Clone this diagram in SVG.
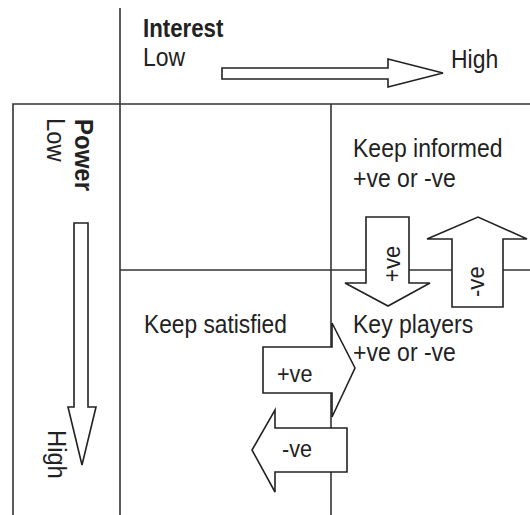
<svg xmlns="http://www.w3.org/2000/svg" width="530" height="515" viewBox="0 0 530 515">
<style>
.ln{stroke:#333;stroke-width:1.6;fill:none}
.ar{stroke:#222;stroke-width:1.6;fill:#fff;stroke-linejoin:miter}
text{font-family:"Liberation Sans",Arial,sans-serif;font-size:25px;fill:#222}
.b{font-weight:bold}
.s{font-size:24px}
</style>
<rect width="530" height="515" fill="#fff"/>
<g id="grid">
<line class="ln" x1="120" y1="8" x2="120" y2="515"/>
<polyline class="ln" points="13,515 13,104 530,104"/>
<line class="ln" x1="331" y1="104" x2="331" y2="515"/>
<line class="ln" x1="120" y1="270" x2="530" y2="270"/>
</g>
<g id="axis-interest">
<text class="b" transform="translate(143,37) scale(0.89,1)">Interest</text>
<text transform="translate(143,66) scale(0.92,1)">Low</text>
<text transform="translate(451,68) scale(0.92,1)">High</text>
<polygon class="ar" points="222,68 388,68 388,59 443,73 388,87 388,79 222,79"/>
</g>
<g id="axis-power">
<text class="b" transform="translate(75,119) rotate(90) scale(0.96,1)">Power</text>
<text transform="translate(47,118) rotate(90) scale(0.95,1)">Low</text>
<text transform="translate(48,430) rotate(90) scale(0.95,1)">High</text>
<polygon class="ar" points="74,223 88,223 88,407 96,407 82,465 68,407 74,407"/>
</g>
<g id="keep-informed">
<text transform="translate(353,157) scale(0.92,1)">Keep informed</text>
<text transform="translate(353,187) scale(0.92,1)">+ve or -ve</text>
</g>
<g id="keep-satisfied">
<text transform="translate(144,333) scale(0.91,1)">Keep satisfied</text>
</g>
<g id="key-players">
<text transform="translate(353,333) scale(0.92,1)">Key players</text>
<text transform="translate(353,361) scale(0.92,1)">+ve or -ve</text>
</g>
<g id="connectors">
<g id="arrow-down-pos">
<polygon class="ar" points="366,217 409,217 409,283 430,283 388,306 345,283 366,283"/>
<text class="s" transform="translate(400,282) rotate(-90) scale(0.92,1)">+ve</text>
</g>
<g id="arrow-up-neg">
<polygon class="ar" points="452,307 452,239 427,239 478,217 527,239 503,239 503,307"/>
<text class="s" transform="translate(484,297) rotate(-90) scale(0.92,1)">-ve</text>
</g>
<g id="arrow-right-pos">
<polygon class="ar" points="263,347 332,347 332,323 355,368 332,417 332,393 263,393"/>
<text class="s" transform="translate(277,382) scale(0.9,1)">+ve</text>
</g>
<g id="arrow-left-neg">
<polygon class="ar" points="347,428 275,428 275,410 252,450 275,492 275,472 347,472"/>
<text class="s" transform="translate(282,457) scale(0.9,1)">-ve</text>
</g>
</g>
</svg>
